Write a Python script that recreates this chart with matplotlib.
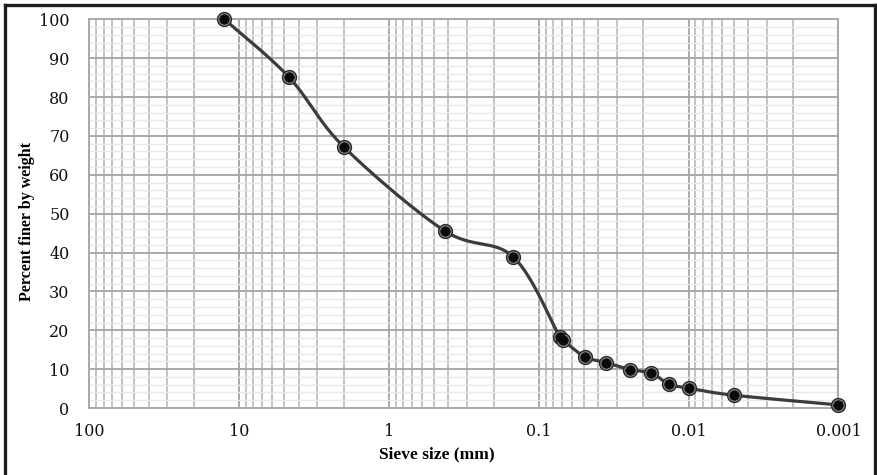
import numpy as np
import matplotlib
matplotlib.use("Agg")
import matplotlib.pyplot as plt
from matplotlib.ticker import FixedLocator, FixedFormatter, MultipleLocator
from matplotlib.lines import Line2D

# Grain size distribution (sieve + hydrometer)
sieve_mm = [12.5, 4.66, 2.0, 0.425, 0.148, 0.0724, 0.069, 0.0493, 0.0357,
            0.0247, 0.0177, 0.0136, 0.010, 0.005, 0.001]
percent_finer = [100.0, 85.2, 67.2, 45.6, 38.9, 18.3, 17.5, 13.2, 11.7,
                 9.9, 9.0, 6.2, 5.1, 3.3, 0.8]

x_ticks = [100, 10, 1, 0.1, 0.01, 0.001]
x_tick_labels = ["100", "10", "1", "0.1", "0.01", "0.001"]
y_ticks = list(range(0, 101, 10))


def smooth_curve(xs, ys, sx, sy, n=40):
    """Catmull-Rom style Bezier smoothing in screen-like units (log x)."""
    u = np.log10(np.asarray(xs)) * sx
    v = np.asarray(ys) * sy
    P = np.column_stack([u, v])
    out = []
    for i in range(len(P) - 1):
        p0 = P[i - 1] if i > 0 else P[i]
        p1 = P[i]
        p2 = P[i + 1]
        p3 = P[i + 2] if i + 2 < len(P) else P[i + 1]
        c1 = p1 + (p2 - p0) / 6.0
        c2 = p2 - (p3 - p1) / 6.0
        t = np.linspace(0, 1, n, endpoint=(i == len(P) - 2))[:, None]
        b = ((1 - t) ** 3) * p1 + 3 * ((1 - t) ** 2) * t * c1 \
            + 3 * (1 - t) * t ** 2 * c2 + t ** 3 * p2
        out.append(b)
    B = np.vstack(out)
    return 10 ** (B[:, 0] / sx), B[:, 1] / sy


fig = plt.figure(figsize=(8.78, 4.75), dpi=100)
ax = fig.add_axes([0.1014, 0.141, 0.8536, 0.8184])

ax.set_xscale("log")
ax.set_xlim(100, 0.001)
ax.set_ylim(0, 100)

# grid
minor_x = [m * 10.0 ** e for e in range(-3, 2) for m in range(2, 10)]
ax.xaxis.set_major_locator(FixedLocator(x_ticks))
ax.xaxis.set_major_formatter(FixedFormatter(x_tick_labels))
ax.xaxis.set_minor_locator(FixedLocator(minor_x))
ax.xaxis.set_minor_formatter(FixedFormatter([]))
ax.yaxis.set_major_locator(FixedLocator(y_ticks))
ax.yaxis.set_minor_locator(MultipleLocator(2))

ax.grid(which="major", axis="both", color="#a9a9a9", linewidth=1.4, zorder=0)
ax.grid(which="minor", axis="x", color="#bcbcbc", linewidth=1.25, zorder=0)
ax.grid(which="minor", axis="y", color="#e9e9e9", linewidth=1.0, zorder=0)
ax.set_axisbelow(True)

for s in ax.spines.values():
    s.set_color("#a9a9a9")
    s.set_linewidth(1.4)

ax.tick_params(which="both", length=0)
ax.tick_params(axis="y", pad=14, labelsize=11.5)
ax.tick_params(axis="x", pad=11, labelsize=11.5)
for lab in ax.get_xticklabels() + ax.get_yticklabels():
    lab.set_fontfamily("DejaVu Serif")
    lab.set_color("#111111")

# smoothed curve
cx, cy = smooth_curve(sieve_mm, percent_finer, 150.0, 3.89)
ax.plot(cx, cy, color="#3c3c3c", linewidth=2.3, solid_capstyle="round",
        zorder=3)

# markers: grey ring with dark outline and black core
ax.plot(sieve_mm, percent_finer, linestyle="none", marker="o",
        markersize=10, markerfacecolor="#8a8a8a", markeredgecolor="#2a2a2a",
        markeredgewidth=1.0, zorder=4, clip_on=False)
ax.plot(sieve_mm, percent_finer, linestyle="none", marker="o",
        markersize=6.8, markerfacecolor="#0a0a0a", markeredgecolor="#0a0a0a",
        markeredgewidth=0.5, zorder=5, clip_on=False)

ax.set_xlabel("Sieve size (mm)", fontfamily="Liberation Serif",
              fontweight="bold", fontsize=12.5)
ax.xaxis.set_label_coords(0.464, -0.098)
ax.set_ylabel("Percent finer by weight", fontfamily="Liberation Serif",
              fontweight="bold", fontsize=11.5)
ax.yaxis.set_label_coords(-0.072, 0.479)

# frame on the left, top and right of the figure
frame_kw = dict(transform=fig.transFigure, color="#1e1e1e", linewidth=2.4,
                solid_capstyle="projecting")
fig.add_artist(Line2D([0.0055, 0.0055], [0.0, 0.9905], **frame_kw))
fig.add_artist(Line2D([0.0055, 0.9965], [0.9905, 0.9905], **frame_kw))
fig.add_artist(Line2D([0.9965, 0.9965], [0.0, 0.9905], **frame_kw))

fig.savefig("out.png", dpi=100)
